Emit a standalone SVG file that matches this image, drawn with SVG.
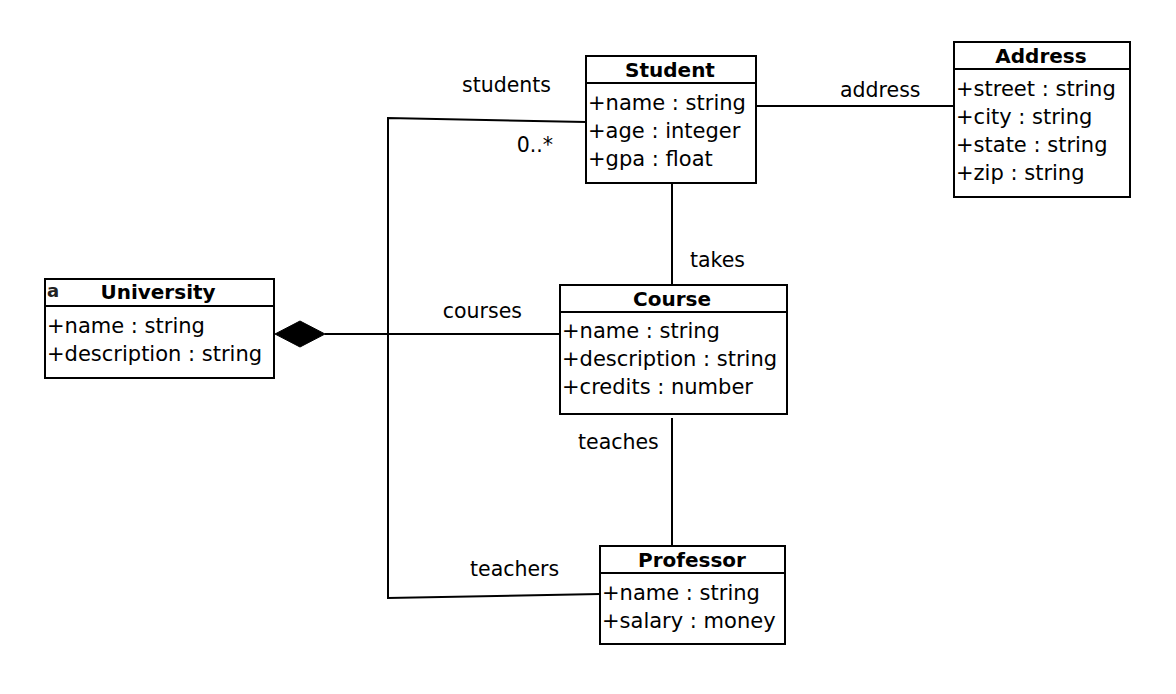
<svg xmlns="http://www.w3.org/2000/svg" width="1176" height="694" viewBox="0 0 1176 694">
<style>
.box{fill:#fff;stroke:#000;stroke-width:2}
.div{stroke:#000;stroke-width:2}
.hd{font-family:"DejaVu Sans",Verdana,sans-serif;font-size:20px;font-weight:bold;text-anchor:middle;fill:#000}
.at{font-family:"DejaVu Sans",Verdana,sans-serif;font-size:21px;fill:#000}
.lb{font-family:"DejaVu Sans",Verdana,sans-serif;font-size:20.5px;fill:#000}
.ln{fill:none;stroke:#000;stroke-width:2}
</style>
<rect width="1176" height="694" fill="#fff"/>
<g id="connectors">
<polyline class="ln" points="586,122 388,118 388,598 600,594"/>
<line class="ln" x1="325" y1="334" x2="560" y2="334"/>
<polygon points="275,334 300,321 325,334 300,347" fill="#000" stroke="#000" stroke-width="1"/>
<line class="ln" x1="756" y1="106" x2="954" y2="106"/>
<line class="ln" x1="672" y1="183" x2="672" y2="285"/>
<line class="ln" x1="672" y1="418" x2="672" y2="546"/>
<text class="lb" x="551" y="92" text-anchor="end">students</text>
<text class="lb" x="553" y="152" text-anchor="end">0..*</text>
<text class="lb" x="840" y="97">address</text>
<text class="lb" x="690" y="267">takes</text>
<text class="lb" x="522" y="318" text-anchor="end">courses</text>
<text class="lb" x="578" y="449">teaches</text>
<text class="lb" x="470" y="576">teachers</text>
</g>
<g id="university">
<rect class="box" x="45" y="279" width="229" height="99"/>
<line class="div" x1="45" y1="306" x2="274" y2="306"/>
<text x="47" y="297" font-family="DejaVu Sans,sans-serif" font-size="18" font-weight="bold" fill="#222">a</text>
<text class="hd" x="158" y="299">University</text>
<text class="at" x="47" y="333">+name : string</text>
<text class="at" x="47" y="361">+description : string</text>
</g>
<g id="student">
<rect class="box" x="586" y="56" width="170" height="127"/>
<line class="div" x1="586" y1="83" x2="756" y2="83"/>
<text class="hd" x="670" y="77">Student</text>
<text class="at" x="588" y="110">+name : string</text>
<text class="at" x="588" y="138">+age : integer</text>
<text class="at" x="588" y="166">+gpa : float</text>
</g>
<g id="address">
<rect class="box" x="954" y="42" width="176" height="155"/>
<line class="div" x1="954" y1="69" x2="1130" y2="69"/>
<text class="hd" x="1041" y="63">Address</text>
<text class="at" x="956" y="96">+street : string</text>
<text class="at" x="956" y="124">+city : string</text>
<text class="at" x="956" y="152">+state : string</text>
<text class="at" x="956" y="180">+zip : string</text>
</g>
<g id="course">
<rect class="box" x="560" y="285" width="227" height="129"/>
<line class="div" x1="560" y1="312" x2="787" y2="312"/>
<text class="hd" x="672" y="306">Course</text>
<text class="at" x="562" y="338">+name : string</text>
<text class="at" x="562" y="366">+description : string</text>
<text class="at" x="562" y="394">+credits : number</text>
</g>
<g id="professor">
<rect class="box" x="600" y="546" width="185" height="98"/>
<line class="div" x1="600" y1="573" x2="785" y2="573"/>
<text class="hd" x="692" y="567">Professor</text>
<text class="at" x="602" y="600">+name : string</text>
<text class="at" x="602" y="628">+salary : money</text>
</g>
</svg>
